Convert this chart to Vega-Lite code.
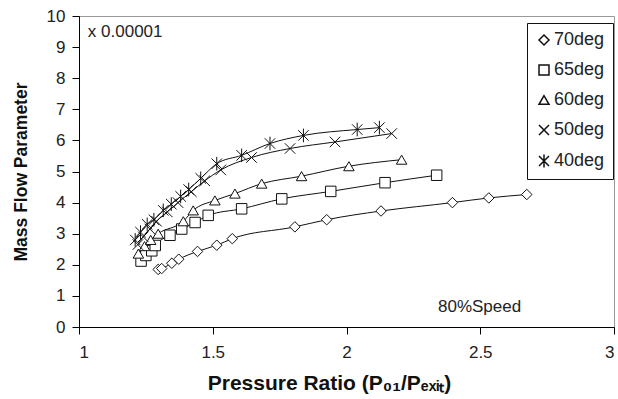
{
  "$schema": "https://vega.github.io/schema/vega-lite/v6.json",
  "width": 535,
  "height": 311,
  "autosize": {"type": "none"},
  "padding": {"left": 79, "top": 16, "right": 4, "bottom": 72},
  "config": {
    "font": "Liberation Sans",
    "view": {"stroke": "#999999", "strokeWidth": 1},
    "axis": {"grid": false, "domainColor": "#000000", "tickColor": "#000000", "labelColor": "#222222", "labelFontSize": 17, "titleFontSize": 17, "titleFontWeight": "bold", "titleColor": "#111111", "tickSize": 7, "labelFont": "Liberation Sans", "titleFont": "Liberation Sans", "labelOverlap": false}
  },
  "datasets": {
    "pts": [
      {"s": "70deg", "x": 1.296, "y": 1.85}, {"s": "70deg", "x": 1.309, "y": 1.88}, {"s": "70deg", "x": 1.347, "y": 2.05}, {"s": "70deg", "x": 1.373, "y": 2.18}, {"s": "70deg", "x": 1.443, "y": 2.43}, {"s": "70deg", "x": 1.515, "y": 2.63}, {"s": "70deg", "x": 1.573, "y": 2.84}, {"s": "70deg", "x": 1.807, "y": 3.22}, {"s": "70deg", "x": 1.926, "y": 3.45}, {"s": "70deg", "x": 2.129, "y": 3.73}, {"s": "70deg", "x": 2.396, "y": 4.0}, {"s": "70deg", "x": 2.532, "y": 4.15}, {"s": "70deg", "x": 2.674, "y": 4.26},
      {"s": "65deg", "x": 1.232, "y": 2.12}, {"s": "65deg", "x": 1.25, "y": 2.3}, {"s": "65deg", "x": 1.272, "y": 2.45}, {"s": "65deg", "x": 1.285, "y": 2.62}, {"s": "65deg", "x": 1.34, "y": 2.95}, {"s": "65deg", "x": 1.384, "y": 3.15}, {"s": "65deg", "x": 1.434, "y": 3.36}, {"s": "65deg", "x": 1.483, "y": 3.59}, {"s": "65deg", "x": 1.608, "y": 3.8}, {"s": "65deg", "x": 1.758, "y": 4.12}, {"s": "65deg", "x": 1.941, "y": 4.36}, {"s": "65deg", "x": 2.144, "y": 4.64}, {"s": "65deg", "x": 2.337, "y": 4.88},
      {"s": "60deg", "x": 1.222, "y": 2.36}, {"s": "60deg", "x": 1.245, "y": 2.6}, {"s": "60deg", "x": 1.268, "y": 2.8}, {"s": "60deg", "x": 1.296, "y": 3.0}, {"s": "60deg", "x": 1.39, "y": 3.4}, {"s": "60deg", "x": 1.427, "y": 3.75}, {"s": "60deg", "x": 1.508, "y": 4.07}, {"s": "60deg", "x": 1.583, "y": 4.29}, {"s": "60deg", "x": 1.683, "y": 4.61}, {"s": "60deg", "x": 1.832, "y": 4.85}, {"s": "60deg", "x": 2.009, "y": 5.17}, {"s": "60deg", "x": 2.206, "y": 5.38},
      {"s": "50deg", "x": 1.22, "y": 2.65}, {"s": "50deg", "x": 1.24, "y": 2.9}, {"s": "50deg", "x": 1.265, "y": 3.15}, {"s": "50deg", "x": 1.29, "y": 3.4}, {"s": "50deg", "x": 1.33, "y": 3.7}, {"s": "50deg", "x": 1.37, "y": 4.0}, {"s": "50deg", "x": 1.42, "y": 4.35}, {"s": "50deg", "x": 1.47, "y": 4.7}, {"s": "50deg", "x": 1.53, "y": 5.05}, {"s": "50deg", "x": 1.645, "y": 5.45}, {"s": "50deg", "x": 1.789, "y": 5.74}, {"s": "50deg", "x": 1.957, "y": 5.95}, {"s": "50deg", "x": 2.169, "y": 6.22},
      {"s": "40deg", "x": 1.21, "y": 2.8}, {"s": "40deg", "x": 1.23, "y": 3.05}, {"s": "40deg", "x": 1.255, "y": 3.3}, {"s": "40deg", "x": 1.28, "y": 3.45}, {"s": "40deg", "x": 1.315, "y": 3.75}, {"s": "40deg", "x": 1.345, "y": 3.95}, {"s": "40deg", "x": 1.38, "y": 4.2}, {"s": "40deg", "x": 1.41, "y": 4.42}, {"s": "40deg", "x": 1.455, "y": 4.78}, {"s": "40deg", "x": 1.515, "y": 5.25}, {"s": "40deg", "x": 1.608, "y": 5.52}, {"s": "40deg", "x": 1.714, "y": 5.9}, {"s": "40deg", "x": 1.839, "y": 6.16}, {"s": "40deg", "x": 2.04, "y": 6.35}, {"s": "40deg", "x": 2.123, "y": 6.41}
    ],
    "notes": [
      {"t": "x 0.00001", "x": 1.033, "y": 9.48},
      {"t": "80%Speed", "x": 2.342, "y": 0.63}
    ]
  },
  "layer": [
    {
      "data": {"name": "pts"},
      "mark": {"type": "line", "color": "#111111", "strokeWidth": 1, "interpolate": "monotone"},
      "encoding": {
        "x": {"field": "x", "type": "quantitative", "scale": {"domain": [1, 3]}, "axis": {"values": [1, 1.5, 2, 2.5, 3], "format": "~g", "labelPadding": 10, "labelOverlap": false, "title": "Pressure Ratio (P₀₁/Pₑₓᵢₜ)", "titleFontSize": 21, "titlePadding": 12, "titleX": 250}},
        "y": {"field": "y", "type": "quantitative", "scale": {"domain": [0, 10]}, "axis": {"values": [0, 1, 2, 3, 4, 5, 6, 7, 8, 9, 10], "tickCount": 11, "labelOverlap": false, "labelPadding": 7, "title": "Mass Flow Parameter", "titleFontSize": 17.5, "titlePadding": 16}},
        "detail": {"field": "s"}
      }
    },
    {
      "data": {"name": "pts"},
      "mark": {"type": "point", "filled": false, "fill": "white", "fillOpacity": 1, "stroke": "#111111", "strokeWidth": 1, "opacity": 1, "size": 110},
      "encoding": {
        "x": {"field": "x", "type": "quantitative"},
        "y": {"field": "y", "type": "quantitative"},
        "shape": {
          "field": "s", "type": "nominal",
          "scale": {"domain": ["70deg", "65deg", "60deg", "50deg", "40deg"], "range": ["diamond", "square", "triangle-up", "M-1,-1L1,1M-1,1L1,-1", "M-1,-1L1,1M-1,1L1,-1M0,-1.3L0,1.3"]},
          "legend": {
            "title": null, "orient": "none", "legendX": 448, "legendY": 7, "padding": 8,
            "strokeColor": "#111111", "fillColor": "white",
            "labelFontSize": 18, "labelColor": "#222222", "labelFont": "Liberation Sans",
            "symbolSize": 100, "rowPadding": 12, "labelOffset": 1,
            "encode": {"symbols": {"update": {"fill": {"value": "white"}, "stroke": {"value": "#111111"}, "strokeWidth": {"value": 1}, "opacity": {"value": 1}, "fillOpacity": {"value": 1}, "strokeOpacity": {"value": 1}}}}
          }
        }
      }
    },
    {
      "data": {"name": "notes"},
      "mark": {"type": "text", "align": "left", "baseline": "middle", "fontSize": 17, "color": "#222222", "font": "Liberation Sans"},
      "encoding": {
        "x": {"field": "x", "type": "quantitative"},
        "y": {"field": "y", "type": "quantitative"},
        "text": {"field": "t"}
      }
    }
  ]
}
